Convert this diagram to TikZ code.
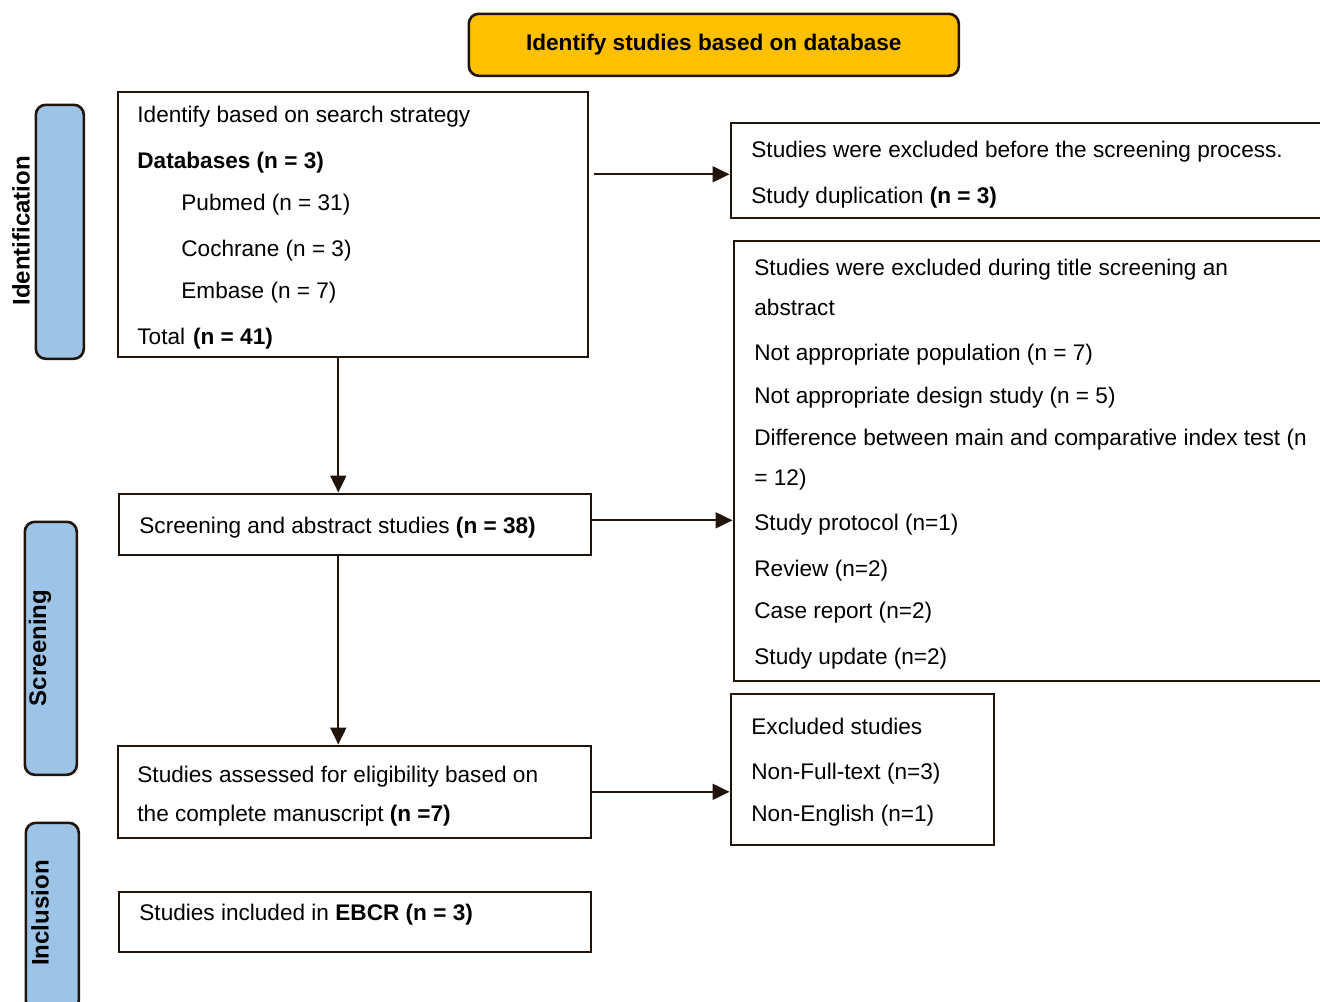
\documentclass[tikz,border=0pt]{standalone}
\usepackage{fontspec}
\setmainfont{Liberation Sans}
\usetikzlibrary{arrows.meta}
\definecolor{ln}{RGB}{33,20,10}
\definecolor{ylw}{RGB}{255,192,0}
\definecolor{blu}{RGB}{157,195,230}
\tikzset{
  box/.style={draw=ln, line width=1.3pt, anchor=north west, inner sep=0pt, rectangle},
  side/.style={draw=ln, fill=blu, line width=1.3pt, anchor=north west, inner sep=0pt, rounded corners=5pt},
  txt/.style={anchor=base west, inner sep=0pt, font=\fontsize{11.3}{13.5}\selectfont},
  lbl/.style={inner sep=0pt, rotate=90, font=\fontsize{12}{14}\selectfont\bfseries},
  arr/.style={draw=ln, line width=1pt, -{Triangle[length=8.5pt,width=8pt]}}
}
\begin{document}
\begin{tikzpicture}[x=0.5pt,y=-0.5pt]
\useasboundingbox (0,0) rectangle (1320,1001);
\clip (0,0) rectangle (1320,1001);
% title
\node[box, fill=ylw, rounded corners=5pt, minimum width=245pt, minimum height=31pt] (title) at (467.5,12.5) {};
\node[inner sep=0pt, font=\fontsize{11.3}{13.5}\selectfont\bfseries] (titletxt) at (title.center) {Identify studies based on database};
% side labels
\node[side, minimum width=24pt, minimum height=127pt] (sid) at (34.5,103.5) {};
\node[lbl] (sidtxt) at (21,231) {Identification};
\node[side, minimum width=26pt, minimum height=126.5pt] (sscr) at (23.5,520.5) {};
\node[lbl] (sscrtxt) at (40,648) {Screening};
\node[side, minimum width=26.5pt, minimum height=94pt] (sinc) at (24.5,821.5) {};
\node[lbl] (sinctxt) at (40,913) {Inclusion};
% main boxes
\node[box, minimum width=235pt, minimum height=132.5pt] (A) at (116.5,90.5) {};
\node[box, minimum width=300pt, minimum height=47.5pt] (B) at (729.5,121.5) {};
\node[box, minimum width=298.5pt, minimum height=220pt] (C) at (732.5,239.5) {};
\node[box, minimum width=236pt, minimum height=30.5pt] (D) at (117.5,492.5) {};
\node[box, minimum width=236.5pt, minimum height=46pt] (E) at (116.5,744.5) {};
\node[box, minimum width=131.5pt, minimum height=75.5pt] (F) at (729.5,692.5) {};
\node[box, minimum width=236pt, minimum height=30pt] (G) at (117.5,890.5) {};
% text A
\node[txt] (a1) at (137,122) {Identify based on search strategy};
\node[txt] (a2) at (137,168) {\bfseries Databases (n = 3)};
\node[txt] (a3) at (181,210) {Pubmed (n = 31)};
\node[txt] (a4) at (181,256) {Cochrane (n = 3)};
\node[txt] (a5) at (181,298) {Embase (n = 7)};
\node[txt] (a6) at (137,344) {Total\hspace{4pt}\textbf{(n = 41)}};
% text B
\node[txt] (b1) at (751,157) {Studies were excluded before the screening process.};
\node[txt] (b2) at (751,203) {Study duplication \textbf{(n = 3)}};
% text C
\node[txt] (c1) at (754,275) {Studies were excluded during title screening an};
\node[txt] (c2) at (754,315) {abstract};
\node[txt] (c3) at (754,360) {Not appropriate population (n = 7)};
\node[txt] (c4) at (754,403) {Not appropriate design study (n = 5)};
\node[txt] (c5) at (754,445) {Difference between main and comparative index test (n};
\node[txt] (c6) at (754,485) {= 12)};
\node[txt] (c7) at (754,530) {Study protocol (n=1)};
\node[txt] (c8) at (754,576) {Review (n=2)};
\node[txt] (c9) at (754,618) {Case report (n=2)};
\node[txt] (c10) at (754,664) {Study update (n=2)};
% text D
\node[txt] (d1) at (139,533) {Screening and abstract studies \textbf{(n = 38)}};
% text E
\node[txt] (e1) at (137,782) {Studies assessed for eligibility based on};
\node[txt] (e2) at (137,821) {the complete manuscript \textbf{(n =7)}};
% text F
\node[txt] (f1) at (751,734) {Excluded studies};
\node[txt] (f2) at (751,779) {Non-Full-text (n=3)};
\node[txt] (f3) at (751,821) {Non-English (n=1)};
% text G
\node[txt] (g1) at (139,920) {Studies included in \textbf{EBCR (n = 3)}};
% connectors
\draw[arr] ([xshift=2.5pt,yshift=-2pt]A.east |- B.west) -- ([yshift=-2pt]B.west);
\draw[arr] ([xshift=-7.25pt]A.south) -- ([xshift=-7.25pt]A.south |- D.north);
\draw[arr] ([yshift=2pt]D.east) -- ([yshift=2pt]D.east -| C.west);
\draw[arr] ([xshift=-8.25pt]D.south) -- ([xshift=-8.25pt]D.south |- E.north);
\draw[arr] (E.east) -- (E.east -| F.west);
\end{tikzpicture}
\end{document}
